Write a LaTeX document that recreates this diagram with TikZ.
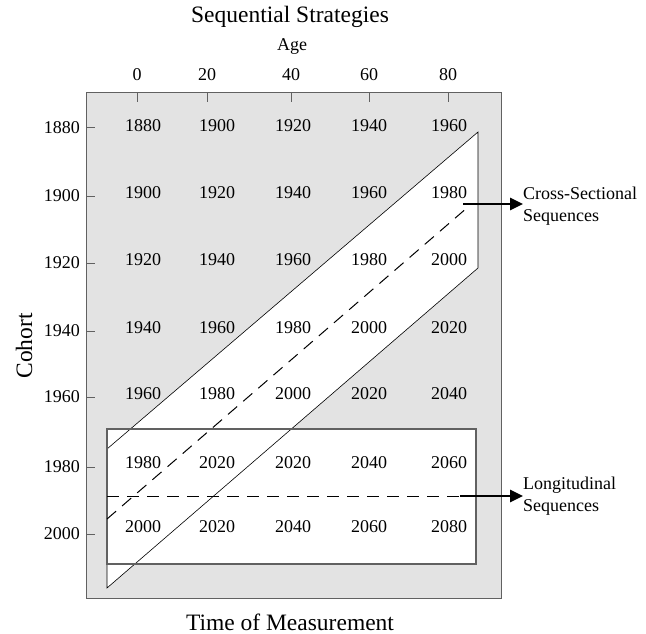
\documentclass[tikz,border=0pt]{standalone}
\usepackage{fontspec}
\setmainfont{Liberation Serif}
\usetikzlibrary{arrows.meta}
\definecolor{shade}{gray}{0.89}
\definecolor{edge}{gray}{0.38}
\definecolor{thin}{gray}{0.5}
\tikzset{
  small/.style={font=\fontsize{18}{21}\selectfont, inner sep=0pt},
  big/.style={font=\fontsize{23.5}{28}\selectfont, inner sep=0pt},
  side/.style={font=\fontsize{18}{22}\selectfont, inner sep=0pt, align=left, anchor=west},
  tickline/.style={edge, line width=1pt},
  dashline/.style={thin, line width=1pt, dash pattern=on 12pt off 8pt},
  bigarrow/.style={black, line width=2.6pt, -{Triangle[length=13pt,width=12pt]}},
}
\begin{document}
\begin{tikzpicture}[x=1pt,y=-1pt]
\useasboundingbox (0,0) rectangle (646,634);
% outer shaded frame
\draw[edge, line width=1pt, fill=shade] (86,93) rectangle (501,598);
% white regions
\fill[white] (107,449) -- (478,132) -- (478,268) -- (107,588) -- cycle;
\fill[white] (107,429) rectangle (476,564);
% parallelogram edges
\draw[thin, line width=0.6pt] (107,449) -- (478,132) -- (478,268) -- (107,588) -- cycle;
% longitudinal rectangle
\draw[edge, line width=1.2pt] (107,429) rectangle (476,564);
% dashed lines
\draw[dashline] (107,519) -- (468,207);
\draw[dashline] (107,496) -- (462,496);
% top ticks and age labels
\foreach \v/\x in {0/137,20/207,40/291,60/369,80/448}{
  \draw[tickline] (\x,93) -- (\x,102);
  \node[small] (age\v) at (\x,75) {\v};
}
% left ticks and cohort labels
\foreach \v/\y in {1880/128,1900/196,1920/263,1940/331,1960/397,1980/467,2000/534}{
  \draw[tickline] (86,\y) -- (95,\y);
  \node[small, anchor=east] (coh\v) at (80,\y) {\v};
}
% cell values
\foreach \r/\y/\list in {1/126/{1880,1900,1920,1940,1960},
                          2/193/{1900,1920,1940,1960,1980},
                          3/260/{1920,1940,1960,1980,2000},
                          4/328/{1940,1960,1980,2000,2020},
                          5/394/{1960,1980,2000,2020,2040},
                          6/463/{1980,2020,2020,2040,2060},
                          7/527/{2000,2020,2040,2060,2080}}{
  \foreach \val [count=\c] in \list {
    \pgfmathsetmacro{\xx}{{143,217,293,369,449}[\c-1]}
    \node[small] (cell\r\c) at (\xx,\y) {\val};
  }
}
% titles
\node[big] (title) at (290,17) {Sequential Strategies};
\node[small] (agetitle) at (292,47) {Age};
\node[big, rotate=90] (cohort) at (24,346) {Cohort};
\node[big] (time) at (290,622) {Time of Measurement};
% side labels and arrows
\node[side] (cs) at (523,206) {Cross-Sectional\\Sequences};
\node[side] (ls) at (523,496) {Longitudinal\\Sequences};
\coordinate (csstart) at (463,204);
\coordinate (lsstart) at (460,496);
\draw[bigarrow] (csstart) -- (cs.west |- csstart);
\draw[bigarrow] (lsstart) -- (ls.west |- lsstart);
\end{tikzpicture}
\end{document}
